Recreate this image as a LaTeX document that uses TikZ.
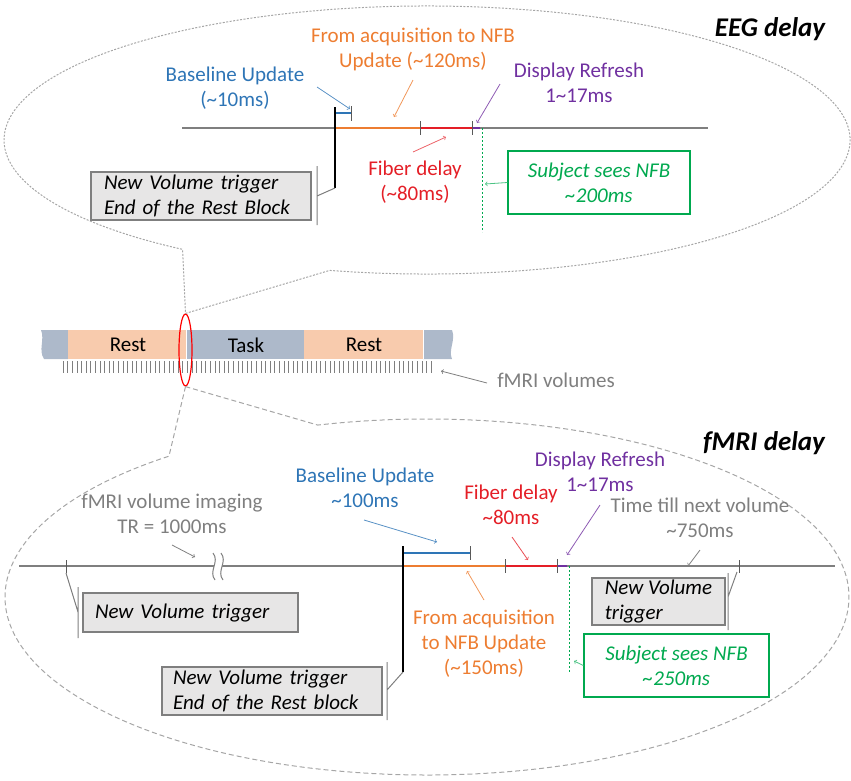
\documentclass[tikz,border=0pt]{standalone}
\usepackage{fontspec}
\setmainfont{Carlito}
\usetikzlibrary{calc,shapes.geometric}

\definecolor{acqorange}{HTML}{ED7D31}
\definecolor{baseblue}{HTML}{2E75B6}
\definecolor{fibred}{HTML}{E41E26}
\definecolor{disppurple}{HTML}{7030A0}
\definecolor{seegreen}{HTML}{00A94F}
\definecolor{axisgrey}{HTML}{7F7F7F}
\definecolor{bubblegrey}{HTML}{A6A6A6}
\definecolor{boxfill}{HTML}{E7E6E6}
\definecolor{restcol}{HTML}{F8CBAD}
\definecolor{taskcol}{HTML}{ADB9CA}

\begin{document}
\begin{tikzpicture}[x=1pt,y=-1pt,
    lbl/.style={font=\fontsize{21}{25}\selectfont,align=center,inner sep=0pt},
    volbox/.style={draw=axisgrey,fill=boxfill,line width=1.5pt,align=left,
      font=\fontsize{21}{25}\selectfont\itshape,inner ysep=0pt},
    seebox/.style={draw=seegreen,fill=white,line width=1.3pt,align=center,text=seegreen,
      font=\fontsize{21}{25}\selectfont\itshape,inner sep=0pt},
    headline/.style={font=\fontsize{27}{30}\selectfont\bfseries\itshape,inner sep=0pt},
    pointer/.style={->,line width=0.8pt},
    marker/.style={draw=black!65,line width=1pt},
    bracket/.style={draw=axisgrey,line width=1pt}]

\useasboundingbox (0,0) rectangle (851,780);

% block design bar
\fill[taskcol] (68,330) -- (41,330) .. controls (45,340) and (38,350) .. (44,359) -- (68,359) -- cycle;
\fill[restcol] (68,330) rectangle (186,359);
\fill[taskcol] (186,330) rectangle (304,359);
\fill[restcol] (304,330) rectangle (423,359);
\fill[taskcol] (423,330) -- (452,330) .. controls (456,340) and (448,350) .. (452,359) -- (423,359) -- cycle;
\draw[white,line width=0.8pt] (423,330) -- (423,359) (186,330) -- (186,359);
\foreach \k in {0,...,80}
  \draw[axisgrey,line width=0.6pt] ({63+4.6*\k},361) -- ({63+4.6*\k},373);

\begin{scope}[every node/.style={lbl}]
  \node (rest1) at (128,345) {Rest};
  \node (task)  at (246,345) {Task};
  \node (rest2) at (364,345) {Rest};
  \node[text=axisgrey] (volumes) at (556,380) {fMRI volumes};
\end{scope}
\coordinate (volumesTail) at (487,383);
\coordinate (volumesTip) at (441,371);
\draw[pointer,axisgrey] (volumesTail) -- (volumesTip);

\node[draw=red,line width=1.2pt,ellipse,minimum width=13pt,minimum height=72pt,inner sep=0pt]
  (ring) at (185.5,350) {};

% callout bubbles
\coordinate (eegc) at (427,140);
\coordinate (fmric) at (427,597);
\draw[bubblegrey,line width=1pt,dash pattern=on 2pt off 1.5pt]
  (ring.north) -- ($(eegc)+(256.7:423pt and 134pt)$)
  arc[start angle=256.7,end angle=594.7,x radius=423pt,y radius=134pt] -- cycle;
\draw[bubblegrey,line width=1pt,dash pattern=on 5pt off 3pt]
  (ring.south) -- ($(fmric)+(127.7:422pt and 178pt)$)
  arc[start angle=127.7,end angle=465,x radius=422pt,y radius=178pt] -- cycle;

% EEG delay
\node[headline] (eegtitle) at (770,29) {EEG delay};

\draw[axisgrey,line width=1.5pt] (182,128) -- (708,128);
\draw[acqorange,line width=2pt] (335,128) -- (420,128);
\draw[fibred,line width=2pt] (420,128) -- (472,128);
\draw[disppurple,line width=2pt] (472,128) -- (480,128);
\draw[baseblue,line width=1.5pt] (335,113) -- (351,113);
\draw[marker] (351,106) -- (351,121) (420,121) -- (420,135) (472,121) -- (472,135);
\draw[seegreen,line width=1pt,dash pattern=on 2pt off 2pt] (482,128) -- (482,232);
\draw[black,line width=2pt] (335,107) -- (335,188);
\draw[bracket] (317,196) -- (335,188) (317,166) -- (317,225);

\begin{scope}[every node/.style={lbl}]
  \node[text=acqorange]  (acqEEG)   at (413,49)  {From acquisition to NFB\\Update (\textasciitilde120ms)};
  \node[text=baseblue]   (baseEEG)  at (235,88)  {Baseline Update\\(\textasciitilde10ms)};
  \node[text=disppurple] (dispEEG)  at (579,83)  {Display Refresh\\1\textasciitilde17ms};
  \node[text=fibred]     (fiberEEG) at (415,182) {Fiber delay\\(\textasciitilde80ms)};
\end{scope}
\node[volbox,text width=194pt,inner xsep=13pt,minimum height=48pt] (trigEEG) at (201,196)
  {New Volume trigger\\End of the Rest Block};
\node[seebox,minimum width=182pt,minimum height=63pt] (seeEEG) at (599,182.5)
  {Subject sees NFB\\\textasciitilde200ms};

\coordinate (baseEEGtail) at (317,87);   \coordinate (baseEEGtip) at (350,109);
\coordinate (acqEEGtail) at (413,80);    \coordinate (acqEEGtip) at (394,117);
\coordinate (dispEEGtail) at (500,84);   \coordinate (dispEEGtip) at (477,123);
\coordinate (fiberEEGtail) at (413,152); \coordinate (fiberEEGtip) at (446,137);
\coordinate (seeEEGtip) at (485,184);
\draw[pointer,baseblue!80] (baseEEGtail) -- (baseEEGtip);
\draw[pointer,acqorange!80] (acqEEGtail) -- (acqEEGtip);
\draw[pointer,disppurple!80] (dispEEGtail) -- (dispEEGtip);
\draw[pointer,fibred!70] (fiberEEGtail) -- (fiberEEGtip);
\draw[pointer,seegreen!70] (seeEEG.west) -- (seeEEGtip);

% fMRI delay
\node[headline] (fmrititle) at (764,443) {fMRI delay};

\draw[axisgrey,line width=1.5pt] (19,566) -- (835,566);
\fill[white] (213,553) .. controls (220,562) and (208,571) .. (215,580)
  -- (223,580) .. controls (216,571) and (228,562) .. (221,553) -- cycle;
\draw[axisgrey,line width=1pt] (213,553) .. controls (220,562) and (208,571) .. (215,580)
  (221,553) .. controls (228,562) and (216,571) .. (223,580);
\draw[acqorange,line width=2pt] (403,566) -- (505,566);
\draw[fibred,line width=2pt] (505,566) -- (557,566);
\draw[disppurple,line width=2pt] (557,566) -- (567,566);
\draw[baseblue,line width=2pt] (403,553) -- (470,553);
\draw[marker] (470,546) -- (470,560) (505,559) -- (505,573) (557,559) -- (557,573)
  (66,560) -- (66,573) (739,560) -- (739,573);
\draw[seegreen,line width=1pt,dash pattern=on 2pt off 2pt] (569,566) -- (569,672);
\draw[black,line width=2pt] (403,546) -- (403,672);
\draw[bracket] (66,573) -- (78,612) (78,587) -- (78,638);
\draw[bracket] (403,672) -- (387,690) (387,662) -- (387,720);
\draw[bracket] (737,572) -- (728,597) (728,573) -- (728,630);

\begin{scope}[every node/.style={lbl}]
  \node[text=disppurple] (dispFMRI)  at (600,472) {Display Refresh\\1\textasciitilde17ms};
  \node[text=baseblue]   (baseFMRI)  at (365,488) {Baseline Update\\\textasciitilde100ms};
  \node[text=fibred]     (fiberFMRI) at (511,505) {Fiber delay\\\textasciitilde80ms};
  \node[text=axisgrey]   (trFMRI)    at (172,514) {fMRI volume imaging\\TR = 1000ms};
  \node[text=axisgrey]   (nextFMRI)  at (700,518) {Time till next volume\\\textasciitilde750ms};
  \node[text=acqorange]  (acqFMRI)   at (484,644) {From acquisition\\to NFB Update\\(\textasciitilde150ms)};
\end{scope}
\node[volbox,text width=191pt,inner xsep=12pt,minimum height=39pt] (trigLeft) at (190.5,612.5)
  {New Volume trigger};
\node[volbox,inner xsep=0pt,minimum width=133pt,minimum height=47pt] (trigRight) at (658.5,601.5)
  {New Volume\\trigger};
\node[volbox,text width=198pt,inner xsep=11pt,minimum height=48pt] (trigRest) at (272,691)
  {New Volume trigger\\End of the Rest block};
\node[seebox,minimum width=185pt,minimum height=63pt] (seeFMRI) at (676.5,665.5)
  {Subject sees NFB\\\textasciitilde250ms};

\coordinate (trTail) at (172,545);     \coordinate (trTip) at (195,557);
\coordinate (baseTail) at (364,520);   \coordinate (baseTip) at (437,542);
\coordinate (acqTail) at (484,600);    \coordinate (acqTip) at (467,571);
\coordinate (fiberTail) at (512,537);  \coordinate (fiberTip) at (528,560);
\coordinate (dispTail) at (600,505);   \coordinate (dispTip) at (567,555);
\coordinate (nextTail) at (700,550);   \coordinate (nextTip) at (688,566);
\coordinate (seeTip) at (574,661);
\draw[pointer,axisgrey] (trTail) -- (trTip);
\draw[pointer,baseblue!80] (baseTail) -- (baseTip);
\draw[pointer,acqorange!80] (acqTail) -- (acqTip);
\draw[pointer,fibred!80] (fiberTail) -- (fiberTip);
\draw[pointer,disppurple!80] (dispTail) -- (dispTip);
\draw[pointer,axisgrey] (nextTail) -- (nextTip);
\draw[pointer,seegreen!70] (seeFMRI.west) -- (seeTip);

\end{tikzpicture}
\end{document}
